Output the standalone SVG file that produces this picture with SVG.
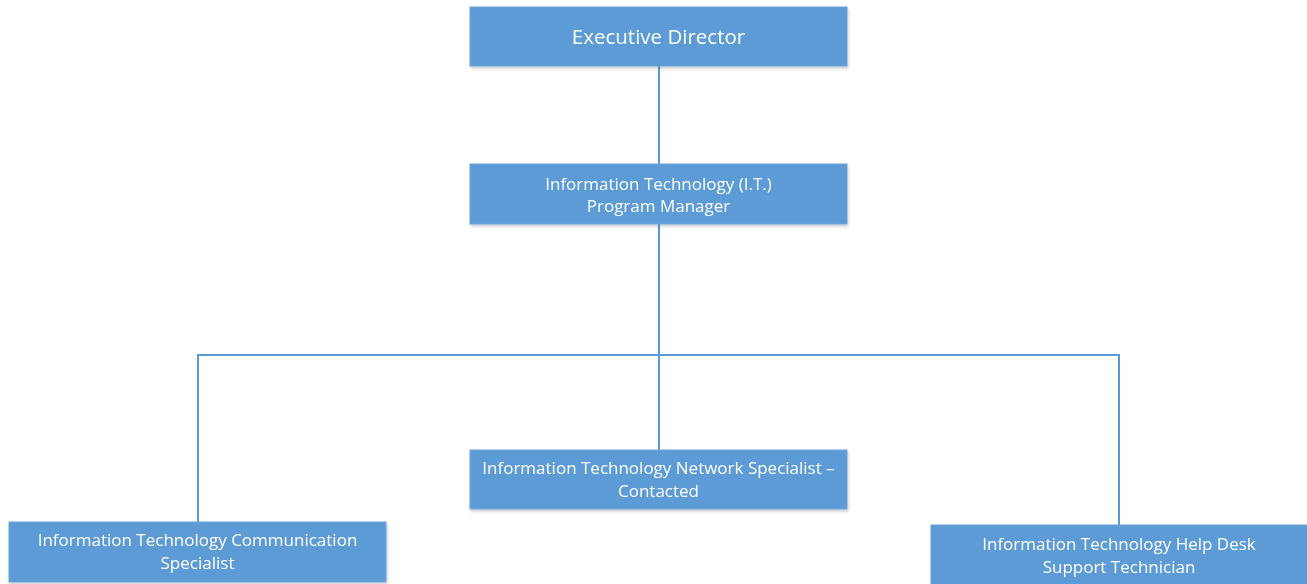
<svg xmlns="http://www.w3.org/2000/svg" width="1307" height="584" viewBox="0 0 1307 584">
<style>
.box{fill:#5B9BD5;stroke:#6FA5DA;stroke-width:1}
.t{fill:#FFFFFF;font-family:"Open Sans","Liberation Sans",sans-serif;text-anchor:middle;font-size:17px}
.big{font-size:20.5px}
.c{stroke:#5B9BD5;stroke-width:2;fill:none}
</style>
<defs>
<filter id="sh" x="-5%" y="-10%" width="110%" height="130%">
<feDropShadow dx="1" dy="2" stdDeviation="1.5" flood-color="#000" flood-opacity="0.2"/>
</filter>
</defs>
<rect width="1307" height="584" fill="#FFFFFF"/>
<g id="connectors">
<line class="c" x1="659" y1="66" x2="659" y2="164"/>
<line class="c" x1="659" y1="224" x2="659" y2="450"/>
<polyline class="c" points="198,522 198,355 1119,355 1119,525"/>
</g>
<g id="executive-director" filter="url(#sh)">
<rect class="box" x="470" y="7" width="377" height="59"/>
<text class="t big" x="658.5" y="44">Executive Director</text>
</g>
<g id="it-program-manager" filter="url(#sh)">
<rect class="box" x="470" y="164" width="377" height="60"/>
<text class="t" x="658.5" y="190">Information Technology (I.T.)</text>
<text class="t" x="658.5" y="212">Program Manager</text>
</g>
<g id="it-network-specialist" filter="url(#sh)">
<rect class="box" x="470" y="450" width="377" height="59"/>
<text class="t" x="658.5" y="474">Information Technology Network Specialist –</text>
<text class="t" x="658.5" y="497">Contacted</text>
</g>
<g id="it-communication-specialist" filter="url(#sh)">
<rect class="box" x="9" y="522" width="377" height="60"/>
<text class="t" x="197.5" y="546">Information Technology Communication</text>
<text class="t" x="197.5" y="569">Specialist</text>
</g>
<g id="it-help-desk" filter="url(#sh)">
<rect class="box" x="931" y="525" width="377" height="60"/>
<text class="t" x="1119" y="550">Information Technology Help Desk</text>
<text class="t" x="1119" y="573">Support Technician</text>
</g>
</svg>
